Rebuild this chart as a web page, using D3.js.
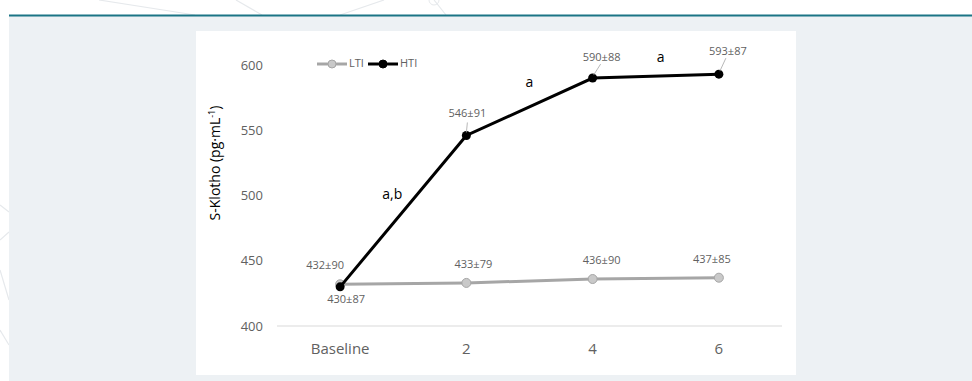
<!DOCTYPE html>
<html><head><meta charset="utf-8">
<script src="https://cdn.jsdelivr.net/npm/d3@7"></script>
<style>html,body{margin:0;padding:0;background:#fff;}svg{display:block;}</style>
</head><body>
<svg id="c" width="972" height="381"></svg>
<script>
const categories = ["Baseline", "2", "4", "6"];
const ltiValues = [432, 433, 436, 437];
const htiValues = [430, 546, 590, 593];
const ltiLabels = ["432±90", "433±79", "436±90", "437±85"];
const htiLabels = ["430±87", "546±91", "590±88", "593±87"];
const yTicks = [400, 450, 500, 550, 600];
const sigLetters = ["a,b", "a", "a"];
const seriesNames = ["LTI", "HTI"];

const svg = d3.select("#c");
const font = "'Open Sans', 'Noto Sans', sans-serif";
const txtGrey = "#616161";

// decorative background
const deco = svg.append("g").attr("stroke", "#e6e9ec").attr("stroke-width", 1.2).attr("fill", "none");
[[99,0,195,15],[236,0,262,15],[384,0,340,15],[434,0,446,15],[0,240,9,232],[0,270,9,300],[0,330,9,345],[0,205,9,212]].forEach(l=>{
  deco.append("line").attr("x1",l[0]).attr("y1",l[1]).attr("x2",l[2]).attr("y2",l[3]);
});
svg.append("circle").attr("cx",434).attr("cy",0).attr("r",5).attr("fill","none").attr("stroke","#e6e9ec");

svg.append("rect").attr("x",9).attr("y",16).attr("width",963).attr("height",365).attr("fill","#edf1f4");
svg.append("rect").attr("x",9).attr("y",14.5).attr("width",963).attr("height",2).attr("fill","#1b7585");
svg.append("rect").attr("x",196).attr("y",31).attr("width",600).attr("height",344).attr("fill","#ffffff");

const x = d3.scaleBand().domain(categories).range([277, 782]);
const y = d3.scaleLinear().domain([400, 600]).range([326, 65]);
const cx = d => x(d) + x.bandwidth()/2;

// x axis baseline
svg.append("line").attr("x1",277).attr("x2",782).attr("y1",y(400)).attr("y2",y(400))
  .attr("stroke","#d9d9d9").attr("stroke-width",1.2);

// y axis labels
const yAxis = d3.axisLeft(y).tickValues(yTicks).tickSize(0).tickPadding(0);
const gy = svg.append("g").attr("transform","translate(263,0)").call(yAxis);
gy.select(".domain").remove();
gy.selectAll("text").attr("font-family",font).attr("font-size",13).attr("fill",txtGrey);

const xAxis = d3.axisBottom(x).tickSize(0).tickPadding(0);
const gx = svg.append("g").attr("transform",`translate(0,${y(400)+17})`).call(xAxis);
gx.select(".domain").remove();
gx.selectAll("text").attr("font-family",font).attr("font-size",15).attr("fill",txtGrey);

// y title
svg.append("text").attr("transform","translate(220,163) rotate(-90)")
  .attr("text-anchor","middle").attr("font-family",font).attr("font-size",14).attr("fill","#000")
  .html('S-Klotho (pg·mL<tspan dy="-5" font-size="9">-1</tspan><tspan dy="5">)</tspan>');

const line = d3.line().x((d,i)=>cx(categories[i])).y(d=>y(d));

// LTI
svg.append("path").datum(ltiValues).attr("d",line).attr("fill","none").attr("stroke","#a6a6a6").attr("stroke-width",3);
svg.selectAll(".ltiDot").data(ltiValues).enter().append("circle")
  .attr("cx",(d,i)=>cx(categories[i])).attr("cy",d=>y(d)).attr("r",4.5)
  .attr("fill","#c9c9c9").attr("stroke","#a6a6a6").attr("stroke-width",1);

// HTI
svg.append("path").datum(htiValues).attr("d",line).attr("fill","none").attr("stroke","#000").attr("stroke-width",3);
svg.selectAll(".htiDot").data(htiValues).enter().append("circle")
  .attr("cx",(d,i)=>cx(categories[i])).attr("cy",d=>y(d)).attr("r",4.5)
  .attr("fill","#000");

// data labels
const lab = (t, xx, yy) => svg.append("text").attr("x",xx).attr("y",yy).attr("text-anchor","middle")
  .attr("dominant-baseline","middle").attr("font-family",font).attr("font-size",11).attr("fill",txtGrey).text(t);
const offLti = [[-15,-18],[7,-18],[9,-18],[-7,-18]];
ltiValues.forEach((v,i)=>lab(ltiLabels[i], cx(categories[i])+offLti[i][0], y(v)+offLti[i][1]));
const offHti = [[6,13],[1,-21],[9,-20],[9,-22]];
htiValues.forEach((v,i)=>lab(htiLabels[i], cx(categories[i])+offHti[i][0], y(v)+offHti[i][1]));
// leader lines
const leaders = [[1,[1,-13],[0,-3]],[2,[8,-14],[1,-3]],[3,[7,-16],[1,-3]]];
leaders.forEach(l=>{
  const i=l[0], v=htiValues[i];
  svg.append("line").attr("x1",cx(categories[i])+l[1][0]).attr("y1",y(v)+l[1][1])
    .attr("x2",cx(categories[i])+l[2][0]).attr("y2",y(v)+l[2][1]).attr("stroke","#a6a6a6").attr("stroke-width",0.8);
});

// significance letters (midpoints between categories)
sigLetters.forEach((s,i)=>{
  const mx = (cx(categories[i])+cx(categories[i+1]))/2;
  const my = (y(htiValues[i])+y(htiValues[i+1]))/2;
  const offs = [[-11,-16],[0,-24],[5,-18]];
  svg.append("text").attr("x",mx+offs[i][0]).attr("y",my+offs[i][1]).attr("text-anchor","middle")
    .attr("dominant-baseline","middle").attr("font-family",font).attr("font-size",14).attr("fill","#000").text(s);
});

// legend
const legend = [{name:seriesNames[0], color:"#a6a6a6", fill:"#c9c9c9", x:317},{name:seriesNames[1], color:"#000", fill:"#000", x:368}];
legend.forEach(l=>{
  svg.append("line").attr("x1",l.x).attr("x2",l.x+30).attr("y1",64).attr("y2",64).attr("stroke",l.color).attr("stroke-width",3);
  svg.append("circle").attr("cx",l.x+15).attr("cy",64).attr("r",4).attr("fill",l.fill).attr("stroke",l.color).attr("stroke-width",1);
  svg.append("text").attr("x",l.x+32).attr("y",64).attr("dominant-baseline","middle")
    .attr("font-family",font).attr("font-size",11).attr("fill",txtGrey).text(l.name);
});
</script>
</body></html>
